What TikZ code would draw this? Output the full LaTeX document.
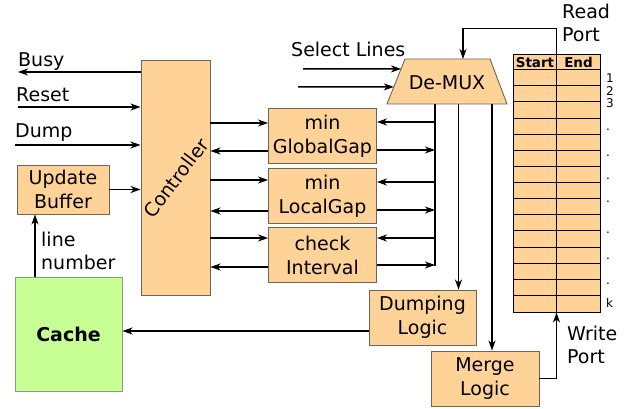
\documentclass[tikz,border=0pt]{standalone}
\usepackage{fontspec}
\setmainfont{DejaVu Sans}
\usetikzlibrary{arrows.meta,calc}
\definecolor{boxfill}{RGB}{255,211,152}
\definecolor{boxline}{RGB}{110,100,88}
\definecolor{cachefill}{RGB}{199,255,148}
\definecolor{cacheline}{RGB}{140,156,124}
\tikzset{
  block/.style={draw=boxline, fill=boxfill, line width=0.9pt, inner sep=0pt,
    align=center, font=\fontsize{19}{24}\selectfont},
  arr/.style={-{Stealth[length=10pt,width=7pt,inset=3pt]}, line width=1.5pt},
  wire/.style={line width=1.5pt},
  lbl/.style={inner sep=0pt, font=\fontsize{19}{23}\selectfont, align=left},
  idx/.style={inner sep=0pt, anchor=base west, font=\fontsize{12}{14}\selectfont},
  hdr/.style={inner sep=0pt, font=\fontsize{13.5}{15}\selectfont\bfseries},
}
\begin{document}
\begin{tikzpicture}[x=1pt,y=-1pt]
  \useasboundingbox (0,0) rectangle (630,409);

  \node [block, minimum width=69pt, minimum height=235pt] (ctrl) at (175.5,177.5) {};
  \node [lbl, rotate=53] at (176,178) {Controller};
  \node [block, minimum width=92pt, minimum height=49pt] (upd) at (63,189.5) {Update\\Buffer};
  \node [block, draw=cacheline, fill=cachefill, minimum width=107pt, minimum height=114pt,
         font=\fontsize{19}{24}\selectfont\bfseries] (cache) at (68.5,334) {Cache};
  \node [block, minimum width=108pt, minimum height=55pt] (gg) at (322.5,136) {min\\GlobalGap};
  \node [block, minimum width=108pt, minimum height=55pt] (lg) at (322.5,196) {min\\LocalGap};
  \node [block, minimum width=108pt, minimum height=55pt] (ci) at (322.5,255) {check\\Interval};
  \node [block, minimum width=107pt, minimum height=55pt] (dump) at (422.5,317.5) {Dumping\\Logic};
  \node [block, minimum width=108pt, minimum height=55pt] (merge) at (485,378.5) {Merge\\Logic};

  % de-mux
  \coordinate (dmxtl) at (405,59);
  \coordinate (dmxtr) at (490,59);
  \coordinate (dmxbr) at (507,104);
  \coordinate (dmxbl) at (387,104);
  \draw [draw=boxline, fill=boxfill, line width=0.9pt] (dmxtl) -- (dmxtr) -- (dmxbr) -- (dmxbl) -- cycle;
  \node [lbl] (demux) at (447,83) {De-MUX};

  % table of intervals
  \node [block, draw=black, minimum width=87pt, minimum height=258pt] (tab) at (556.5,183) {};
  \foreach \i in {1,...,15}
    \draw [line width=1pt] ($(tab.north west)+(0,16.125*\i)$) -- ++(87,0);
  \draw [line width=1pt] (tab.north) -- (tab.south);
  \node [hdr] at (535,62.5) {Start};
  \node [hdr] at (578.5,62.5) {End};
  \node [idx] at (606,83) {1};
  \node [idx] at (606,95.5) {2};
  \node [idx] at (606,108) {3};
  \foreach \y in {131,157,180,203,234,259,284}
    \node [idx] at (606,\y) {.};
  \node [idx] at (606,307) {k};

  % inputs and outputs of the controller
  \coordinate (busy) at (18,72);
  \coordinate (reset) at (18,107);
  \coordinate (dmp) at (15,145);
  \draw [arr] (busy -| ctrl.west) -- (busy);
  \draw [arr] (reset) -- (reset -| ctrl.west);
  \draw [arr] (dmp) -- (dmp -| ctrl.west);
  \node [lbl, anchor=base west] at (18,66.5) {Busy};
  \node [lbl, anchor=base west] at (16,101.5) {Reset};
  \node [lbl, anchor=base west] at (15,138) {Dump};
  \draw [arr] (upd.east) -- (upd.east -| ctrl.west);
  \draw [arr] ([xshift=-33.5pt]cache.north) -- ([xshift=-33.5pt]cache.north |- upd.south);
  \node [lbl, anchor=north west] at (41,232) {line\\number};

  % controller <-> units
  \draw [arr] ([yshift=13pt]gg.west -| ctrl.east) -- ([yshift=13pt]gg.west);
  \draw [arr] ([yshift=-15pt]gg.west) -- ([yshift=-15pt]gg.west -| ctrl.east);
  \draw [arr] ([yshift=16pt]lg.west -| ctrl.east) -- ([yshift=16pt]lg.west);
  \draw [arr] ([yshift=-15pt]lg.west) -- ([yshift=-15pt]lg.west -| ctrl.east);
  \draw [arr] ([yshift=17pt]ci.west -| ctrl.east) -- ([yshift=17pt]ci.west);
  \draw [arr] ([yshift=-12pt]ci.west) -- ([yshift=-12pt]ci.west -| ctrl.east);

  % de-mux outputs
  \coordinate (bustop) at (435,104);
  \coordinate (busbot) at (435,266);
  \draw [wire] (bustop) -- (busbot);
  \draw [arr] ([yshift=14pt]gg.east -| bustop) -- ([yshift=14pt]gg.east);
  \draw [arr] ([yshift=-14pt]gg.east) -- ([yshift=-14pt]gg.east -| bustop);
  \draw [arr] ([yshift=14pt]lg.east -| bustop) -- ([yshift=14pt]lg.east);
  \draw [arr] ([yshift=-14pt]lg.east) -- ([yshift=-14pt]lg.east -| bustop);
  \draw [arr] ([yshift=17pt]ci.east -| bustop) -- ([yshift=17pt]ci.east);
  \draw [arr] ([yshift=-10pt]ci.east) -- ([yshift=-10pt]ci.east -| bustop);
  \coordinate (dmxa) at (458.5,104);
  \coordinate (dmxb) at (492,104);
  \draw [arr] (dmxa) -- (dmxa |- dump.north);
  \draw [arr] (dmxb) -- (dmxb |- merge.north);
  \draw [arr] ([yshift=-13.5pt]dump.west) -- ([yshift=-13.5pt]dump.west -| cache.east);

  % select lines
  \coordinate (sela) at (303,69);
  \coordinate (selb) at (298,87);
  \draw [arr] (sela) -- ($(dmxtl)!0.22!(dmxbl)$ |- sela);
  \draw [arr] (selb) -- ($(dmxtl)!0.62!(dmxbl)$ |- selb);
  \node [lbl, anchor=base west] at (291,56.5) {Select Lines};

  % read and write ports
  \coordinate (rdturn) at (463,28.5);
  \draw [arr] (tab.north) |- (rdturn) -- (rdturn |- dmxtl);
  \node [lbl, anchor=north west] at (562,4) {Read\\Port};
  \draw [arr] (merge.east) -| (tab.south);
  \node [lbl, anchor=north west] at (567,326) {Write\\Port};
\end{tikzpicture}
\end{document}
